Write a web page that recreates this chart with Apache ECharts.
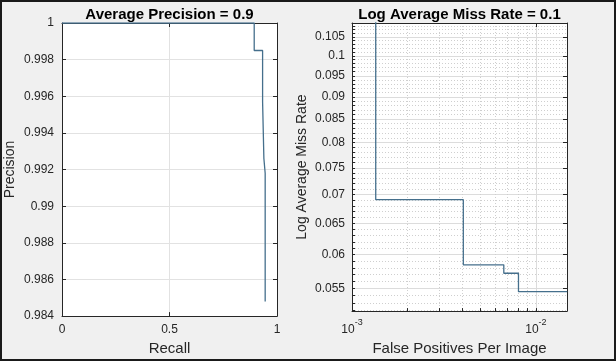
<!DOCTYPE html>
<html><head><meta charset="utf-8">
<script src="https://cdn.jsdelivr.net/npm/echarts@6/dist/echarts.min.js"></script>
<style>
html,body{margin:0;padding:0;background:#f0f0f0;}
#chart{position:absolute;left:0;top:0;width:616px;height:361px;}
#frame{position:absolute;left:0;top:0;width:616px;height:361px;box-sizing:border-box;border:2px solid #1a1a1a;pointer-events:none;}
</style></head><body>
<div id="chart"></div><div id="frame"></div>
<script>
// ---- Data ----
const recall    = [0, 0.894, 0.894, 0.933, 0.933, 0.939, 0.939, 0.945, 0.945];
const precision = [1, 1, 0.9985, 0.9985, 0.9957, 0.9957, 0.9926, 0.9918, 0.9848];

const fppi     = [0.001346, 0.001346, 0.00403, 0.00403, 0.00669, 0.00669, 0.00804, 0.00804, 0.0148];
const missRate = [0.15, 0.0691, 0.0691, 0.05845, 0.05845, 0.0572, 0.0572, 0.05455, 0.05455];

const leftTitle = 'Average Precision = 0.9';
const rightTitle = 'Log Average Miss Rate = 0.1';

const fppiMajorTicks = [0.001, 0.01];
const fppiMinorTicks = [0.001, 0.002, 0.003, 0.004, 0.005, 0.006, 0.007, 0.008, 0.009, 0.01];
const missMajorTicks = [0.055, 0.06, 0.065, 0.07, 0.075, 0.08, 0.085, 0.09, 0.095, 0.1, 0.105];
const missMinorTicks = [];
for (let k = 52; k <= 108; k++) missMinorTicks.push(k / 1000);

// ---- Style ----
const FONT = '"Liberation Sans", Arial, sans-serif';
const TXT = '#262626';
const LINE = '#456f8c';
const axLine = {show: true, onZero: false, lineStyle: {color: TXT, width: 1}};
const tick = {show: true, inside: true, length: 4, lineStyle: {color: TXT}};
const tickLbl = {color: TXT, fontSize: 12, fontFamily: FONT};
const nameStyleX = {color: TXT, fontSize: 15, fontFamily: FONT};
const nameStyleY = {color: TXT, fontSize: 14, fontFamily: FONT};
const titleStyle = {fontSize: 15, fontWeight: 'bold', color: '#000', fontFamily: FONT};

const G1 = {left: 62, top: 23, width: 215, height: 296};
const G2 = {left: 352, top: 23, width: 215, height: 296};

const option = {
  backgroundColor: '#f0f0f0',
  animation: false,
  title: [
    {text: leftTitle, left: G1.left + G1.width / 2, top: 7, padding: 0, textAlign: 'center', textStyle: titleStyle},
    {text: rightTitle, left: G2.left + G2.width / 2, top: 7, padding: 0, textAlign: 'center', textStyle: titleStyle}
  ],
  grid: [
    Object.assign({containLabel: false, backgroundColor: '#fff', show: true, borderWidth: 0}, G1),
    Object.assign({containLabel: false, backgroundColor: '#fff', show: true, borderWidth: 0}, G2)
  ],
  xAxis: [
    {gridIndex: 0, type: 'value', min: 0, max: 1, interval: 0.5, position: 'bottom',
     axisLine: axLine, axisTick: tick,
     axisLabel: Object.assign({margin: 8}, tickLbl),
     splitLine: {show: true, lineStyle: {color: '#e2e2e2'}},
     name: 'Recall', nameLocation: 'middle', nameGap: 18, nameTextStyle: nameStyleX},
    {gridIndex: 0, type: 'value', min: 0, max: 1, interval: 0.5, position: 'top',
     axisLine: axLine, axisTick: tick, axisLabel: {show: false}, splitLine: {show: false}},
    {gridIndex: 1, type: 'log', logBase: 10, min: 0.001, max: 0.01476, position: 'bottom',
     axisLine: axLine,
     axisTick: Object.assign({customValues: fppiMinorTicks}, tick, {length: 3}),
     axisLabel: {customValues: fppiMajorTicks, margin: 7,
       formatter: v => '{b|10}{s|' + Math.round(Math.log10(v)) + '}',
       rich: {b: {fontSize: 12, color: TXT, fontFamily: FONT, lineHeight: 18, verticalAlign: 'bottom'},
              s: {fontSize: 9, color: TXT, fontFamily: FONT, lineHeight: 18, verticalAlign: 'top'}}},
     splitLine: {show: true, lineStyle: {color: '#cfcfcf', type: [1, 2]}},
     name: 'False Positives Per Image', nameLocation: 'middle', nameGap: 22, nameTextStyle: nameStyleX},
    {gridIndex: 1, type: 'log', logBase: 10, min: 0.001, max: 0.01476, position: 'top',
     axisLine: axLine,
     axisTick: Object.assign({customValues: fppiMajorTicks}, tick),
     axisLabel: {show: false},
     splitLine: {show: true, lineStyle: {color: '#dcdcdc'}}}
  ],
  yAxis: [
    {gridIndex: 0, type: 'value', min: 0.984, max: 1, interval: 0.002, position: 'left',
     axisLine: axLine, axisTick: tick,
     axisLabel: Object.assign({margin: 8}, tickLbl),
     splitLine: {show: true, lineStyle: {color: '#e2e2e2'}},
     name: 'Precision', nameLocation: 'middle', nameGap: 45, nameTextStyle: nameStyleY},
    {gridIndex: 0, type: 'value', min: 0.984, max: 1, interval: 0.002, position: 'right',
     axisLine: axLine, axisTick: tick, axisLabel: {show: false}, splitLine: {show: false}},
    {gridIndex: 1, type: 'log', logBase: 10, min: 0.0519, max: 0.1088, position: 'left',
     axisLine: axLine,
     axisTick: Object.assign({customValues: missMinorTicks}, tick, {length: 3}),
     axisLabel: Object.assign({customValues: missMajorTicks, margin: 7,
       formatter: v => String(parseFloat(v.toFixed(3)))}, tickLbl),
     splitLine: {show: true, lineStyle: {color: '#cfcfcf', type: [1, 2]}},
     name: 'Log Average Miss Rate', nameLocation: 'middle', nameGap: 43, nameTextStyle: nameStyleY},
    {gridIndex: 1, type: 'log', logBase: 10, min: 0.0519, max: 0.1088, position: 'right',
     axisLine: axLine,
     axisTick: Object.assign({customValues: missMajorTicks}, tick),
     axisLabel: {show: false},
     splitLine: {show: true, lineStyle: {color: '#dcdcdc'}}}
  ],
  series: [
    {type: 'line', xAxisIndex: 0, yAxisIndex: 0, showSymbol: false, clip: true,
     lineStyle: {color: LINE, width: 1.3},
     data: recall.map((r, i) => [r, precision[i]])},
    {type: 'line', xAxisIndex: 2, yAxisIndex: 2, showSymbol: false, clip: true,
     lineStyle: {color: LINE, width: 1.3},
     data: fppi.map((f, i) => [f, missRate[i]])}
  ]
};
const chart = echarts.init(document.getElementById('chart'), null, {renderer: 'canvas'});
chart.setOption(option);
</script>
</body></html>
